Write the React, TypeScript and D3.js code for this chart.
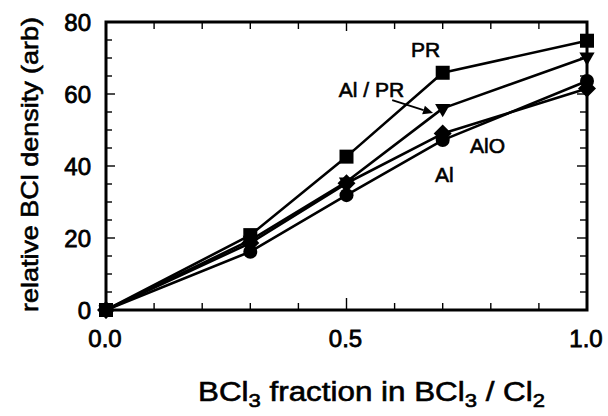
import { useEffect, useRef } from 'react';
import * as d3 from 'd3';

// BCl3 fraction (x) and relative BCl density for each chamber condition
const fractions = [0, 0.3, 0.5, 0.7, 1.0];
const prValues = [0, 20.8, 42.6, 65.9, 74.8];
const alPrValues = [0, 19.4, 35.6, 56.0, 70.3];
const aloValues = [0, 18.6, 35.2, 49.0, 61.5];
const alValues = [0, 16.2, 31.9, 47.2, 63.6];

const xTickValues = [0, 0.5, 1.0];
const yTickValues = [0, 20, 40, 60, 80];

// label text with anchor in data units
const labelTexts = ['PR', 'Al / PR', 'AlO', 'Al'];
const labelX = [0.634, 0.484, 0.757, 0.684];
const labelY = [70.3, 59.2, 43.6, 35.6];

// arrow from "Al / PR" to its curve (data units)
const arrowFrom: [number, number] = [0.595, 58.3];
const arrowTo: [number, number] = [0.68, 54.7];

const W = 608;
const H = 416;
const FONT = '"Liberation Sans", Arial, Helvetica, sans-serif';

export default function App() {
  const svgRef = useRef<SVGSVGElement>(null);

  useEffect(() => {
    if (!svgRef.current) return;
    const svg = d3.select(svgRef.current);
    svg.selectAll('*').remove();

    const left = 106, right = 587, top = 22, bottom = 310;

    const x = d3.scaleLinear().domain([0, 1]).range([left, right]);
    const y = d3.scaleLinear().domain([0, 80]).range([bottom, top]);

    svg.append('rect').attr('width', W).attr('height', H).attr('fill', '#fff');

    const g = svg.append('g');

    // 刻度 (inward)
    const ticks = g.append('g').attr('stroke', '#000').attr('stroke-width', 1.4);
    d3.range(0, 1.0001, 0.1).forEach((v) => {
      const major = xTickValues.some(t => Math.abs(t - v) < 1e-6);
      const len = major ? 12 : 7;
      ticks.append('line')
        .attr('x1', x(v)).attr('x2', x(v))
        .attr('y1', y(0)).attr('y2', y(0) - len);
      ticks.append('line')
        .attr('x1', x(v)).attr('x2', x(v))
        .attr('y1', y(80)).attr('y2', y(80) + (major ? 9 : 7));
    });
    d3.range(0, 80.001, 5).forEach((v) => {
      const major = yTickValues.includes(v);
      const len = major ? 9 : 6;
      ticks.append('line')
        .attr('x1', x(0)).attr('x2', x(0) + len)
        .attr('y1', y(v)).attr('y2', y(v));
      ticks.append('line')
        .attr('x1', x(1)).attr('x2', x(1) - (major ? 10 : 7))
        .attr('y1', y(v)).attr('y2', y(v));
    });

    // frame
    g.append('rect')
      .attr('x', x(0)).attr('y', y(80))
      .attr('width', x(1) - x(0)).attr('height', y(0) - y(80))
      .attr('fill', 'none')
      .attr('stroke', '#000')
      .attr('stroke-width', 3);

    // tick labels
    g.selectAll('.xlab')
      .data(xTickValues)
      .enter()
      .append('text')
      .attr('x', d => x(d) - 1)
      .attr('y', 347)
      .attr('text-anchor', 'middle')
      .attr('font-family', FONT)
      .attr('font-size', 24)
      .attr('fill', '#000')
      .attr('stroke', '#000')
      .attr('stroke-width', 0.8)
      .text(d => d3.format('.1f')(d));

    g.selectAll('.ylab')
      .data(yTickValues)
      .enter()
      .append('text')
      .attr('x', x(0) - 15)
      .attr('y', d => y(d) + 8.5)
      .attr('text-anchor', 'end')
      .attr('font-family', FONT)
      .attr('font-size', 24)
      .attr('fill', '#000')
      .attr('stroke', '#000')
      .attr('stroke-width', 0.8)
      .text(d => String(d));

    // series
    const series = [
      { values: alValues, marker: 'circle' },
      { values: aloValues, marker: 'diamond' },
      { values: alPrValues, marker: 'triangle' },
      { values: prValues, marker: 'square' },
    ];

    const line = d3.line<number>()
      .x((_, i) => x(fractions[i]))
      .y(d => y(d));

    series.forEach((s) => {
      g.append('path')
        .datum(s.values)
        .attr('fill', 'none')
        .attr('stroke', '#000')
        .attr('stroke-width', 2.6)
        .attr('stroke-linejoin', 'round')
        .attr('d', line);
    });

    const diamondPath = 'M0,-9L9,0L0,9L-9,0Z';
    series.forEach((s) => {
      const pts = g.append('g');
      s.values.forEach((v, i) => {
        const cx = x(fractions[i]);
        const cy = y(v);
        if (s.marker === 'circle') {
          pts.append('circle').attr('cx', cx).attr('cy', cy).attr('r', 7).attr('fill', '#000');
        } else if (s.marker === 'square') {
          pts.append('path')
            .attr('d', d3.symbol(d3.symbolSquare, 196)())
            .attr('transform', `translate(${cx},${cy})`)
            .attr('fill', '#000');
        } else if (s.marker === 'triangle') {
          pts.append('path')
            .attr('d', d3.symbol(d3.symbolTriangle, 100)())
            .attr('transform', `translate(${cx},${cy}) rotate(180)`)
            .attr('fill', '#000');
        } else {
          pts.append('path')
            .attr('d', diamondPath)
            .attr('transform', `translate(${cx},${cy})`)
            .attr('fill', '#000');
        }
      });
    });

    // curve labels
    labelTexts.forEach((t, i) => {
      g.append('text')
        .attr('x', x(labelX[i]))
        .attr('y', y(labelY[i]))
        .attr('font-family', FONT)
        .attr('font-size', 21)
        .attr('fill', '#000')
        .attr('stroke', '#000')
        .attr('stroke-width', 0.6)
        .text(t);
    });

    // arrow
    const ax0 = x(arrowFrom[0]), ay0 = y(arrowFrom[1]);
    const ax1 = x(arrowTo[0]), ay1 = y(arrowTo[1]);
    const ang = Math.atan2(ay1 - ay0, ax1 - ax0);
    const headLen = 10, headW = 4.5;
    const bx = ax1 - headLen * Math.cos(ang), by = ay1 - headLen * Math.sin(ang);
    g.append('line')
      .attr('x1', ax0).attr('y1', ay0).attr('x2', bx).attr('y2', by)
      .attr('stroke', '#000').attr('stroke-width', 1.8);
    g.append('path')
      .attr('d', `M${ax1},${ay1}L${bx + headW * Math.sin(ang)},${by - headW * Math.cos(ang)}L${bx - headW * Math.sin(ang)},${by + headW * Math.cos(ang)}Z`)
      .attr('fill', '#000');

    // x axis title with subscripts
    const xt = g.append('text')
      .attr('x', 198)
      .attr('y', 401)
      .attr('font-family', FONT)
      .attr('font-size', 27)
      .attr('fill', '#000')
      .attr('stroke', '#000')
      .attr('stroke-width', 0.6)
      .attr('textLength', 347)
      .attr('lengthAdjust', 'spacingAndGlyphs');
    const parts: [string, boolean][] = [
      ['BCl', false], ['3', true], [' fraction in BCl', false], ['3', true], [' / Cl', false], ['2', true],
    ];
    let shifted = false;
    parts.forEach(([t, sub]) => {
      const dy = sub ? 6 : (shifted ? -6 : 0);
      xt.append('tspan')
        .attr('font-size', sub ? 19 : 27)
        .attr('dy', dy)
        .text(t);
      shifted = sub;
    });

    // y axis title
    g.append('text')
      .attr('transform', `translate(38,${(17 + 312) / 2}) rotate(-90)`)
      .attr('text-anchor', 'middle')
      .attr('font-family', FONT)
      .attr('font-size', 24)
      .attr('fill', '#000')
      .attr('stroke', '#000')
      .attr('stroke-width', 0.6)
      .attr('textLength', 295)
      .attr('lengthAdjust', 'spacingAndGlyphs')
      .text('relative BCl density (arb)');
  }, []);

  return (
    <svg
      ref={svgRef}
      width={W}
      height={H}
      style={{ position: 'absolute', left: 0, top: 0, display: 'block' }}
    />
  );
}
